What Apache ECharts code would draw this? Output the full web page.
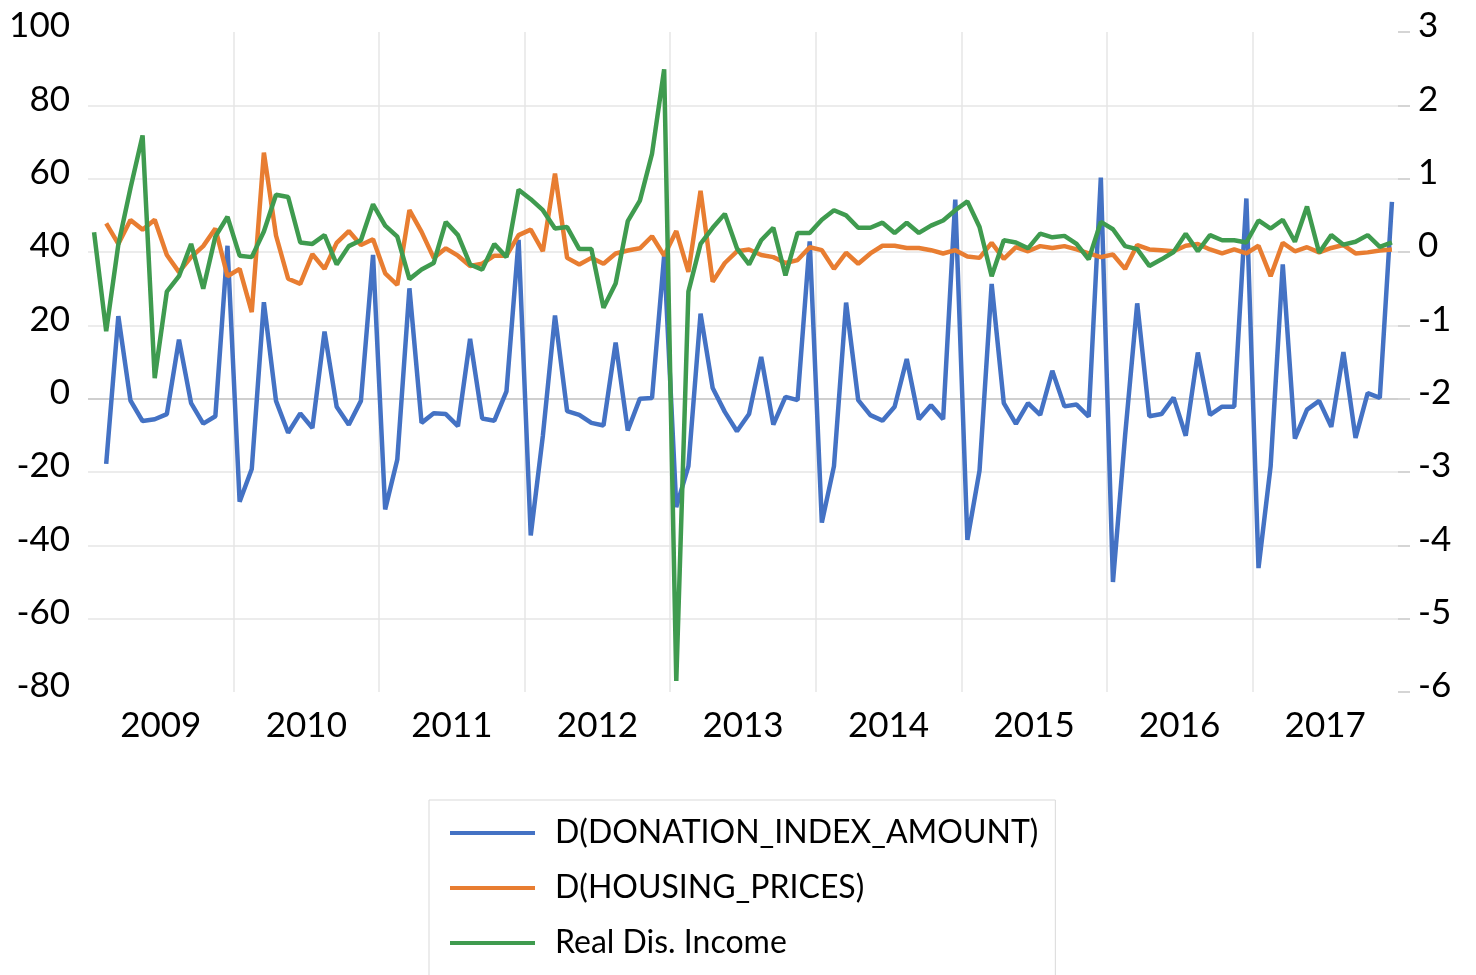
<!DOCTYPE html>
<html>
<head>
<meta charset="utf-8">
<title>Donations, housing prices and income</title>
<script src="https://cdn.jsdelivr.net/npm/echarts@6.0.0/dist/echarts.min.js"></script>
<style>
    html, body { margin: 0; padding: 0; background: #fff; }
    #chart { width: 1476px; height: 975px; }
</style>
</head>
<body>
<div id="chart"></div>
<script>
// years shown on the x axis, one category per month underneath
var years = ['2009', '2010', '2011', '2012', '2013', '2014', '2015', '2016', '2017'];
var monthNames = ['01', '02', '03', '04', '05', '06', '07', '08', '09', '10', '11', '12'];

// D(DONATION_INDEX_AMOUNT), left axis
var donation = [
    null, -17.8, 22.5, -0.5, -6.1, -5.6, -4.2, 16.1, -1.2, -6.8, -4.8, 41.7,
    -28.1, -19.2, 26.3, -0.6, -9.3, -4.0, -8.0, 18.3, -2.2, -7.1, -0.6, 39.2,
    -30.2, -16.6, 30.1, -6.6, -4.0, -4.2, -7.5, 16.3, -5.4, -6.0, 2.0, 43.3,
    -37.3, -10.1, 22.7, -3.4, -4.4, -6.6, -7.3, 15.3, -8.7, 0.0, 0.2, 39.0,
    -29.6, -18.4, 23.2, 2.9, -3.6, -8.9, -4.2, 11.4, -7.1, 0.5, -0.4, 42.9,
    -33.8, -18.4, 26.2, -0.4, -4.5, -6.0, -2.2, 10.8, -5.6, -1.8, -5.6, 54.3,
    -38.5, -19.6, 31.3, -1.2, -6.9, -1.2, -4.4, 7.6, -2.1, -1.6, -4.9, 60.3,
    -50.0, -10.1, 26.0, -4.8, -4.2, 0.3, -10.1, 12.6, -4.4, -2.2, -2.2, 54.6,
    -46.2, -18.4, 36.6, -10.9, -3.0, -0.6, -7.7, 12.7, -10.7, 1.5, 0.2, 53.7
];

// D(HOUSING_PRICES), left axis
var housing = [
    null, 47.8, 42.2, 48.7, 46.1, 48.8, 39.2, 34.5, 38.6, 41.6, 46.4, 33.4,
    35.4, 23.6, 67.1, 44.5, 32.7, 31.3, 39.4, 35.4, 42.5, 45.7, 41.9, 43.5,
    34.2, 31.0, 51.4, 45.5, 38.4, 41.0, 39.0, 36.2, 36.8, 39.0, 39.0, 44.6,
    46.1, 40.2, 61.4, 38.4, 36.6, 38.4, 36.8, 39.6, 40.4, 41.0, 44.3, 39.0,
    45.7, 34.6, 56.7, 31.9, 37.0, 40.2, 40.7, 39.2, 38.6, 37.0, 37.8, 41.3,
    40.5, 35.4, 39.8, 36.8, 39.6, 41.7, 41.7, 41.1, 41.1, 40.5, 39.6, 40.5,
    38.8, 38.4, 42.5, 38.1, 41.3, 40.2, 41.6, 41.1, 41.6, 40.7, 39.6, 38.6,
    39.3, 35.4, 41.9, 40.7, 40.5, 40.2, 41.7, 42.2, 40.7, 39.6, 40.7, 39.6,
    41.7, 33.4, 42.5, 40.2, 41.3, 39.9, 41.1, 41.9, 39.6, 39.9, 40.4, 40.7
];

// Real Dis. Income, right axis
var income = [
    0.27, -1.08, 0.10, 0.87, 1.59, -1.72, -0.54, -0.33, 0.11, -0.50, 0.21, 0.48,
    -0.05, -0.07, 0.28, 0.78, 0.75, 0.13, 0.11, 0.23, -0.17, 0.08, 0.16, 0.65,
    0.36, 0.21, -0.37, -0.24, -0.15, 0.41, 0.23, -0.17, -0.24, 0.11, -0.07, 0.85,
    0.72, 0.57, 0.32, 0.34, 0.04, 0.04, -0.76, -0.43, 0.42, 0.70, 1.34, 2.49,
    -5.85, -0.54, 0.11, 0.33, 0.52, 0.05, -0.17, 0.16, 0.33, -0.32, 0.26, 0.26,
    0.44, 0.57, 0.50, 0.33, 0.33, 0.40, 0.26, 0.40, 0.26, 0.36, 0.43, 0.57,
    0.69, 0.34, -0.33, 0.16, 0.13, 0.05, 0.25, 0.20, 0.22, 0.11, -0.10, 0.41,
    0.31, 0.08, 0.04, -0.19, -0.10, 0.00, 0.25, 0.01, 0.23, 0.16, 0.16, 0.13,
    0.43, 0.32, 0.44, 0.14, 0.62, -0.01, 0.23, 0.10, 0.14, 0.23, 0.07, 0.13
];

var seriesNames = ['D(DONATION_INDEX_AMOUNT)', 'D(HOUSING_PRICES)', 'Real Dis. Income'];
var seriesColors = ['#4472c4', '#e87d31', '#3f9b4f'];

// month categories, e.g. 2009-01
var months = [];
for (var y = 0; y < years.length; y++) {
    for (var m = 0; m < monthNames.length; m++) {
        months.push(years[y] + '-' + monthNames[m]);
    }
}

var fontName = 'Lato, "Open Sans", sans-serif';
var gridColor = '#e6e6e6';

var myChart = echarts.init(document.getElementById('chart'), null, { renderer: 'canvas' });

var makeLine = function (idx, data, yIndex) {
    return {
        name: seriesNames[idx],
        type: 'line',
        xAxisIndex: 0,
        yAxisIndex: yIndex,
        data: data,
        symbol: 'none',
        color: seriesColors[idx],
        lineStyle: { width: 4.5, color: seriesColors[idx] }
    };
};

// value labels sit a little above their gridline, like in Excel
var valueLabel = function (margin) {
    return {
        margin: margin,
        fontSize: 35,
        color: '#000',
        fontFamily: fontName,
        verticalAlign: 'bottom',
        lineHeight: 12
    };
};

var option = {
    animation: false,
    backgroundColor: '#ffffff',
    textStyle: { fontFamily: fontName },
    grid: {
        left: 88,
        right: 78,
        top: 32,
        bottom: 283,
        containLabel: false
    },
    legend: {
        orient: 'vertical',
        left: 429,
        top: 800,
        height: 300,
        padding: [13, 17, 30, 21],
        borderColor: '#d9d9d9',
        borderWidth: 1,
        icon: 'rect',
        itemWidth: 85,
        itemHeight: 4,
        itemGap: 15,
        textStyle: {
            fontFamily: fontName,
            fontSize: 32,
            lineHeight: 40,
            color: '#000',
            padding: [0, 0, 0, 15]
        },
        data: seriesNames
    },
    xAxis: [
        {
            // one slot per month, only used to place the lines
            type: 'category',
            data: months,
            boundaryGap: true,
            show: false
        },
        {
            // year labels and the vertical gridlines
            type: 'category',
            data: years,
            position: 'bottom',
            boundaryGap: true,
            axisLine: { show: false },
            axisTick: { show: false },
            axisLabel: {
                interval: 0,
                margin: 16,
                fontSize: 35,
                color: '#000',
                fontFamily: fontName
            },
            splitLine: {
                show: true,
                interval: 0,
                showMinLine: false,
                showMaxLine: false,
                lineStyle: { color: gridColor, width: 1.5 }
            }
        }
    ],
    yAxis: [
        {
            type: 'value',
            position: 'left',
            min: -80,
            max: 100,
            interval: 20,
            axisLine: { show: false },
            axisTick: { show: false },
            axisLabel: valueLabel(18),
            splitLine: {
                show: true,
                showMinLine: false,
                showMaxLine: false,
                lineStyle: {
                    // -60 .. 80, the zero line is the darker category axis line
                    color: [gridColor, gridColor, gridColor, '#bfbfbf',
                        gridColor, gridColor, gridColor, gridColor],
                    width: 1.5
                }
            }
        },
        {
            type: 'value',
            position: 'right',
            min: -6,
            max: 3,
            interval: 1,
            axisLine: { show: false },
            axisTick: {
                show: true,
                inside: false,
                length: 12,
                lineStyle: { color: '#c8c8c8', width: 1.5 }
            },
            axisLabel: valueLabel(20),
            splitLine: { show: false }
        }
    ],
    series: [
        makeLine(0, donation, 0),
        makeLine(1, housing, 0),
        makeLine(2, income, 1)
    ]
};

myChart.setOption(option);
window.addEventListener('resize', function () {
    myChart.resize();
});
</script>
</body>
</html>
